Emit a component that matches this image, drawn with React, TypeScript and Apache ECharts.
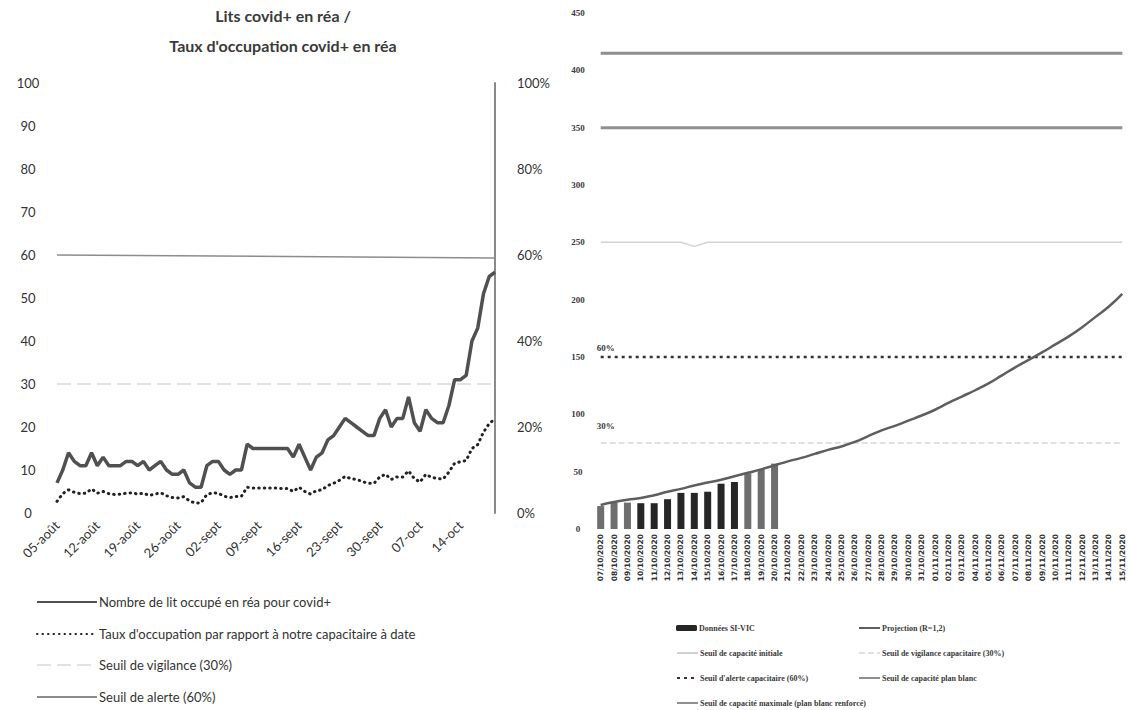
import React, { useEffect, useRef } from "react";
import * as echarts from "echarts";

// ---------- Left chart data ----------
const leftMonths = [
  { label: "août", from: 5, to: 31 },
  { label: "sept", from: 1, to: 30 },
  { label: "oct", from: 1, to: 20 },
];
const leftDates: string[] = [];
leftMonths.forEach((m) => {
  for (let d = m.from; d <= m.to; d++) leftDates.push(String(d).padStart(2, "0") + "-" + m.label);
});

const litsOccupes = [
  7, 10, 14, 12, 11, 11, 14, 11, 13, 11,
  11, 11, 12, 12, 11, 12, 10, 11, 12, 10,
  9, 9, 10, 7, 6, 6, 11, 12, 12, 10,
  9, 10, 10, 16, 15, 15, 15, 15, 15, 15,
  15, 13, 16, 13, 10, 13, 14, 17, 18, 20,
  22, 21, 20, 19, 18, 18, 22, 24, 20, 22,
  22, 27, 21, 19, 24, 22, 21, 21, 25, 31,
  31, 32, 40, 43, 51, 55, 56,
];
const tauxOccupation = [
  2.7, 4.5, 5.4, 4.8, 4.5, 4.6, 5.6, 4.6, 5.0, 4.5,
  4.3, 4.4, 4.6, 4.7, 4.4, 4.6, 4.1, 4.4, 4.7, 4.0,
  3.6, 3.5, 3.8, 2.8, 2.3, 2.4, 4.3, 4.7, 4.6, 3.9,
  3.6, 3.8, 3.9, 6.0, 5.8, 5.8, 5.8, 5.8, 5.8, 5.7,
  5.7, 5.0, 6.0, 5.0, 4.4, 5.2, 5.4, 6.4, 6.9, 7.6,
  8.5, 8.0, 7.8, 7.3, 6.9, 6.9, 8.4, 9.0, 7.8, 8.4,
  8.4, 9.8, 8.0, 7.2, 9.0, 8.3, 8.0, 7.9, 9.5, 11.6,
  11.9, 12.2, 15.0, 15.9, 18.8, 20.8, 21.9,
];
const seuilVigilanceGauche = [30, 30];
const seuilAlerteGauche = [60, 59.3];

// ---------- Right chart data ----------
const rightMonths = [
  { num: "10", from: 7, to: 31 },
  { num: "11", from: 1, to: 15 },
];
const rightDates: string[] = [];
rightMonths.forEach((m) => {
  for (let d = m.from; d <= m.to; d++) rightDates.push(String(d).padStart(2, "0") + "/" + m.num + "/2020");
});

const donnees = [20, 23, 23, 22.5, 22.5, 26, 31.5, 31.5, 32.5, 39.5, 41, 48.5, 51.5, 57];
const donneesGrises = [true, true, true, false, false, false, false, false, false, false, false, true, true, true];
const projection = [
  21, 23.5, 25.5, 27, 29.5, 32.5, 35, 38, 40.5, 43,
  46, 49, 52, 55.5, 59, 62, 65.5, 69, 72, 76,
  81, 86, 90, 94.5, 99, 104, 110, 115.5, 121, 127,
  134, 141, 147.5, 154, 161, 168, 176, 185, 194, 205,
];
const seuilCapaciteInitiale = [250, 250, 246.5, 250, 250];
const seuilCapaciteInitialeIdx = [0, 6, 7, 8, 39];
const seuilVigilanceDroite = [75, 75];
const seuilAlerteDroite = [150, 150];
const seuilPlanBlanc = [350, 350];
const seuilMaximal = [415, 415];

const L = {
  lits: "Nombre de lit occupé en réa pour covid+",
  taux: "Taux d'occupation par rapport à notre capacitaire à date",
  vig: "Seuil de vigilance (30%)",
  alerte: "Seuil de alerte (60%)",
};
const R = {
  don: "Données SI-VIC",
  proj: "Projection (R=1,2)",
  init: "Seuil de capacité initiale",
  vig: "Seuil de vigilance capacitaire (30%)",
  alerte: "Seuil d'alerte capacitaire (60%)",
  blanc: "Seuil de capacité plan blanc",
  max: "Seuil de capacité maximale (plan blanc renforcé)",
};

const ends = (vals: number[]) => [[0, vals[0]], [39, vals[1]]];

export default function App() {
  const ref = useRef<HTMLDivElement>(null);
  useEffect(() => {
    document.body.style.margin = "0";
    if (!ref.current) return;
    const chart = echarts.init(ref.current, undefined, { renderer: "svg" });
    const smallSerif = { fontFamily: "Liberation Serif", fontWeight: "bold", color: "#3a3a3a" };

    const leftLegend = (name: string, top: number) => ({
      orient: "horizontal", left: 36, top, padding: 0, itemWidth: 60, itemHeight: 10,
      itemStyle: { opacity: 0 },
      textStyle: { fontSize: 13, fontFamily: "Lato", color: "#333", lineHeight: 16, padding: [0, 0, 0, -3] },
      data: [name],
    });
    const rightLegend = (name: string, left: number, top: number, isBar = false) => ({
      orient: "horizontal", left, top, padding: 0, itemWidth: 21, itemHeight: isBar ? 6 : 4,
      ...(isBar ? {} : { itemStyle: { opacity: 0 } }),
      textStyle: { fontSize: 8, lineHeight: 10, padding: [0, 0, 0, -3], ...smallSerif },
      data: [name],
    });

    const option: any = {
      animation: false,
      backgroundColor: "#ffffff",
      title: [
        {
          text: "Lits covid+ en réa /\nTaux d'occupation covid+ en réa",
          left: 283,
          top: 0,
          padding: 0,
          textAlign: "center",
          textStyle: { fontFamily: "Lato", fontSize: 16, fontWeight: "bold", color: "#3a3a3a", lineHeight: 30 },
        },
      ],
      grid: [
        { left: 57, top: 83, width: 438, height: 430 },
        { left: 594, top: 13, width: 535, height: 516 },
      ],
      xAxis: [
        {
          type: "category", gridIndex: 0, data: leftDates, boundaryGap: false,
          axisLine: { show: false }, axisTick: { show: false },
          axisLabel: { interval: 6, rotate: 45, fontSize: 13, color: "#333", fontFamily: "Lato", margin: 10 },
        },
        {
          type: "category", gridIndex: 1, data: rightDates,
          axisLine: { show: false }, axisTick: { show: false },
          axisLabel: { interval: 0, rotate: 90, fontSize: 7.5, color: "#333", fontFamily: "DejaVu Sans", fontWeight: "bold", margin: 5 },
        },
      ],
      yAxis: [
        {
          type: "value", gridIndex: 0, min: 0, max: 100, interval: 10,
          axisLine: { show: false }, axisTick: { show: false }, splitLine: { show: false },
          axisLabel: { align: "center", margin: 29, fontSize: 13, color: "#333", fontFamily: "Lato" },
        },
        {
          type: "value", gridIndex: 0, position: "right", min: 0, max: 100, interval: 20,
          axisLine: { show: true, lineStyle: { color: "#8a8a8a", width: 2 } },
          axisTick: { show: false }, splitLine: { show: false },
          axisLabel: { formatter: "{value}%", margin: 22, fontSize: 13, color: "#333", fontFamily: "Lato" },
        },
        {
          type: "value", gridIndex: 1, min: 0, max: 450, interval: 50,
          axisLine: { show: false }, axisTick: { show: false }, splitLine: { show: false },
          axisLabel: { align: "center", margin: 16, fontSize: 9, ...smallSerif },
        },
      ],
      legend: [
        leftLegend(L.lits, 594),
        leftLegend(L.taux, 626),
        leftLegend(L.vig, 657),
        leftLegend(L.alerte, 689),
        rightLegend(R.don, 676, 623, true),
        rightLegend(R.init, 676, 648),
        rightLegend(R.alerte, 676, 673),
        rightLegend(R.max, 676, 698),
        rightLegend(R.proj, 858, 623),
        rightLegend(R.vig, 858, 648),
        rightLegend(R.blanc, 858, 673),
      ],
      series: [
        {
          name: L.alerte, type: "line", xAxisIndex: 0, yAxisIndex: 0, symbol: "none",
          lineStyle: { color: "#8c8c8c", width: 1.5 }, itemStyle: { color: "#8c8c8c" },
          data: [[0, seuilAlerteGauche[0]], [76, seuilAlerteGauche[1]]],
        },
        {
          name: L.vig, type: "line", xAxisIndex: 0, yAxisIndex: 0, symbol: "none",
          lineStyle: { color: "#e2e2e2", width: 2, type: [14, 6] }, itemStyle: { color: "#e2e2e2" },
          data: [[0, seuilVigilanceGauche[0]], [76, seuilVigilanceGauche[1]]],
        },
        {
          name: L.lits, type: "line", xAxisIndex: 0, yAxisIndex: 0, symbol: "none",
          lineStyle: { color: "#505050", width: 3.5 }, itemStyle: { color: "#505050" },
          data: litsOccupes,
        },
        {
          name: L.taux, type: "line", xAxisIndex: 0, yAxisIndex: 1, symbol: "none",
          lineStyle: { color: "#222222", width: 3, type: [0.5, 5], cap: "round" }, itemStyle: { color: "#222222" },
          data: tauxOccupation,
        },
        // right chart
        {
          name: R.don, type: "bar", xAxisIndex: 1, yAxisIndex: 2, barWidth: 7,
          itemStyle: { color: "#262626" },
          data: donnees.map((v, i) => ({ value: v, itemStyle: { color: donneesGrises[i] ? "#6e6e6e" : "#262626" } })),
        },
        {
          name: R.max, type: "line", xAxisIndex: 1, yAxisIndex: 2, symbol: "none",
          lineStyle: { color: "#8f8f8f", width: 3 }, itemStyle: { color: "#8f8f8f" },
          data: ends(seuilMaximal),
        },
        {
          name: R.blanc, type: "line", xAxisIndex: 1, yAxisIndex: 2, symbol: "none",
          lineStyle: { color: "#8f8f8f", width: 3 }, itemStyle: { color: "#8f8f8f" },
          data: ends(seuilPlanBlanc),
        },
        {
          name: R.init, type: "line", xAxisIndex: 1, yAxisIndex: 2, symbol: "none",
          lineStyle: { color: "#d2d2d2", width: 1.5 }, itemStyle: { color: "#d2d2d2" },
          data: seuilCapaciteInitiale.map((v, i) => [seuilCapaciteInitialeIdx[i], v]),
        },
        {
          name: R.alerte, type: "line", xAxisIndex: 1, yAxisIndex: 2, symbol: "none",
          lineStyle: { color: "#333333", width: 2.5, type: [3, 4] }, itemStyle: { color: "#333333" },
          data: ends(seuilAlerteDroite),
          markPoint: {
            silent: true, symbol: "rect", symbolSize: 1, itemStyle: { color: "rgba(0,0,0,0)" },
            label: { show: true, position: "top", distance: 4, offset: [5, 0], formatter: "60%", fontSize: 9, ...smallSerif },
            data: [{ coord: [rightDates[0], seuilAlerteDroite[0]] }],
          },
        },
        {
          name: R.vig, type: "line", xAxisIndex: 1, yAxisIndex: 2, symbol: "none",
          lineStyle: { color: "#e0e0e0", width: 2, type: [6, 3] }, itemStyle: { color: "#e0e0e0" },
          data: ends(seuilVigilanceDroite),
          markPoint: {
            silent: true, symbol: "rect", symbolSize: 1, itemStyle: { color: "rgba(0,0,0,0)" },
            label: { show: true, position: "top", distance: 12, offset: [5, 0], formatter: "30%", fontSize: 9, ...smallSerif },
            data: [{ coord: [rightDates[0], seuilVigilanceDroite[0]] }],
          },
        },
        {
          name: R.proj, type: "line", xAxisIndex: 1, yAxisIndex: 2, symbol: "none", smooth: true,
          lineStyle: { color: "#5e5e5e", width: 2.5 }, itemStyle: { color: "#5e5e5e" },
          data: projection,
        },
      ],
    };
    chart.setOption(option);
    return () => chart.dispose();
  }, []);
  return <div ref={ref} style={{ width: 1130, height: 710 }} />;
}
